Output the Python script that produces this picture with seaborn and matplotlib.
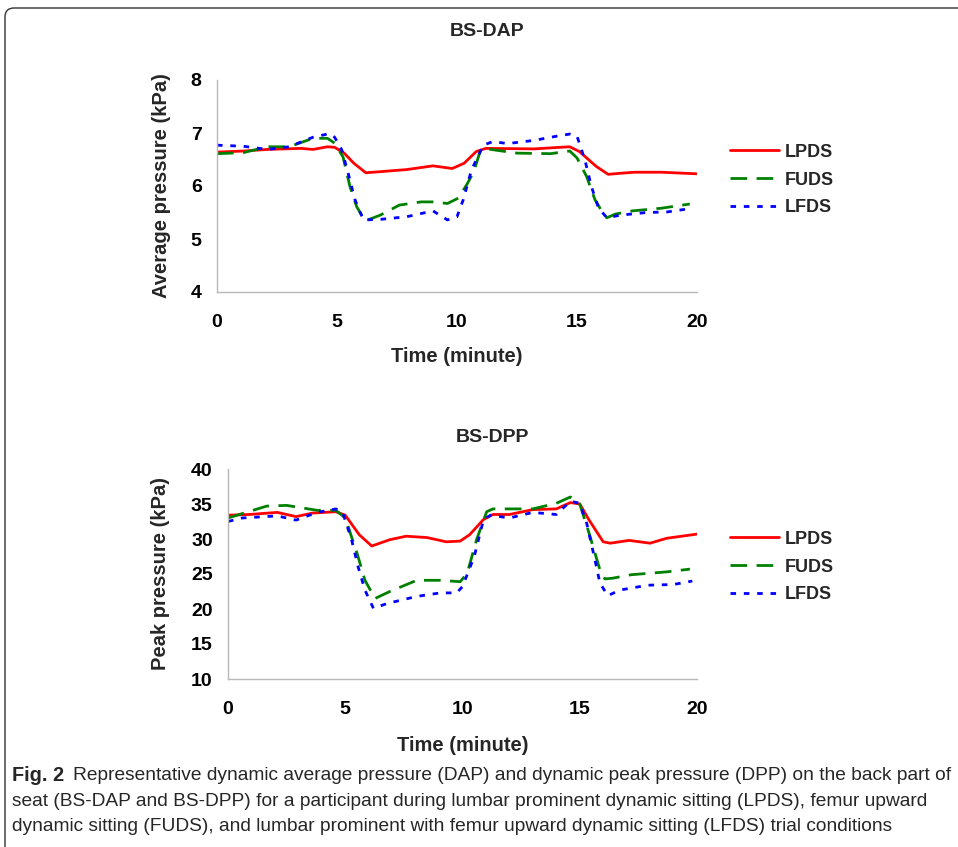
import matplotlib as mpl
mpl.use('Agg')
import matplotlib.pyplot as plt
from matplotlib.patches import FancyBboxPatch
from matplotlib.transforms import IdentityTransform
import seaborn as sns

# BS-DAP (average pressure, kPa)
top_lpds_t = [0, 1.1, 2.1, 3.5, 4.0, 4.6, 4.9, 5.3, 5.7, 6.2, 6.8, 7.9, 9.0, 9.8, 10.3, 10.8, 11.2, 13.2, 14.3, 14.7, 15.1, 15.8, 16.3, 16.8, 17.4, 18.5, 20]
top_lpds_v = [6.64, 6.66, 6.69, 6.71, 6.69, 6.74, 6.73, 6.62, 6.43, 6.25, 6.27, 6.31, 6.38, 6.33, 6.43, 6.65, 6.71, 6.70, 6.73, 6.74, 6.65, 6.37, 6.22, 6.24, 6.26, 6.26, 6.23]
top_fuds_t = [0, 1.1, 2.1, 3.0, 4.0, 4.6, 4.9, 5.25, 5.54, 5.82, 6.17, 6.8, 7.6, 8.5, 9.0, 9.6, 10.05, 10.4, 10.7, 10.96, 11.25, 12.5, 13.9, 14.7, 15.0, 15.4, 15.75, 16.0, 16.24, 16.6, 17.3, 18.5, 19.7]
top_fuds_v = [6.61, 6.63, 6.74, 6.74, 6.90, 6.90, 6.81, 6.55, 5.99, 5.61, 5.34, 5.45, 5.64, 5.70, 5.70, 5.67, 5.77, 6.02, 6.27, 6.65, 6.70, 6.62, 6.61, 6.66, 6.53, 6.18, 5.74, 5.55, 5.40, 5.47, 5.53, 5.58, 5.66]
top_lfds_t = [0, 1.1, 2.1, 3.0, 4.0, 4.7, 4.9, 5.2, 5.5, 5.75, 6.1, 6.8, 7.9, 9.0, 9.6, 10.0, 10.26, 10.6, 11.1, 11.5, 12.1, 13.2, 14.15, 14.7, 15.0, 15.33, 15.6, 15.9, 16.25, 16.8, 17.9, 18.75, 19.8]
top_lfds_v = [6.77, 6.75, 6.69, 6.74, 6.92, 6.99, 6.92, 6.68, 6.18, 5.74, 5.36, 5.37, 5.42, 5.53, 5.36, 5.42, 5.74, 6.30, 6.77, 6.84, 6.80, 6.86, 6.94, 6.98, 6.94, 6.49, 5.99, 5.58, 5.40, 5.45, 5.50, 5.51, 5.58]

# BS-DPP (peak pressure, kPa)
bot_lpds_t = [0, 0.9, 2.1, 2.9, 3.6, 4.6, 5.0, 5.6, 6.13, 6.9, 7.6, 8.5, 9.3, 9.9, 10.3, 10.9, 11.3, 12.0, 13.0, 14.0, 14.6, 15.0, 15.4, 16.0, 16.3, 17.1, 18.0, 18.7, 20]
bot_lpds_v = [33.4, 33.5, 33.8, 33.2, 33.7, 33.9, 33.4, 30.6, 29.0, 29.9, 30.4, 30.2, 29.6, 29.7, 30.6, 32.8, 33.5, 33.5, 34.2, 34.3, 35.2, 35.0, 32.7, 29.6, 29.4, 29.8, 29.4, 30.1, 30.7]
bot_fuds_t = [0, 1.65, 2.5, 3.8, 4.6, 5.0, 5.5, 5.84, 6.27, 6.9, 8.05, 9.05, 9.9, 10.2, 10.6, 11.03, 11.3, 13.0, 14.0, 14.6, 15.0, 15.4, 15.86, 16.07, 16.4, 17.2, 18.7, 19.7]
bot_fuds_v = [33.0, 34.7, 34.8, 34.1, 34.1, 33.0, 28.0, 24.1, 21.5, 22.5, 24.1, 24.1, 23.9, 25.1, 29.9, 33.9, 34.3, 34.3, 35.1, 36.0, 35.0, 30.8, 25.6, 24.3, 24.4, 24.9, 25.3, 25.7]
bot_lfds_t = [0, 0.6, 2.1, 2.9, 3.8, 4.6, 4.9, 5.27, 5.55, 5.84, 6.2, 6.8, 8.05, 9.05, 9.75, 10.0, 10.5, 10.9, 11.2, 12.0, 13.0, 14.0, 14.6, 15.0, 15.3, 15.65, 15.86, 16.2, 16.7, 17.9, 19.0, 19.8]
bot_lfds_v = [32.5, 33.0, 33.3, 32.7, 33.8, 34.3, 33.7, 29.9, 26.0, 22.7, 20.1, 20.8, 21.8, 22.3, 22.3, 23.2, 27.5, 32.8, 33.4, 33.0, 33.8, 33.5, 35.4, 35.1, 32.2, 27.0, 23.7, 21.9, 22.7, 23.4, 23.5, 24.0]

x_ticks = [0, 5, 10, 15, 20]
top_yticks = [4, 5, 6, 7, 8]
bot_yticks = [10, 15, 20, 25, 30, 35, 40]

caption_lines = [
    "Representative dynamic average pressure (DAP) and dynamic peak pressure (DPP) on the back part of",
    "seat (BS-DAP and BS-DPP) for a participant during lumbar prominent dynamic sitting (LPDS), femur upward",
    "dynamic sitting (FUDS), and lumbar prominent with femur upward dynamic sitting (LFDS) trial conditions",
]

sns.set_theme(style='white')
plt.rcParams['font.family'] = ['Liberation Sans', 'DejaVu Sans']

fig = plt.figure(figsize=(9.58, 8.47), dpi=100)
ax1 = fig.add_axes([217/958, 1-292/847, 480/958, 212/847])
ax2 = fig.add_axes([228/958, 1-679/847, 469/958, 210/847])

styles = {
    'LPDS': dict(color='#ff0000', linestyle='-'),
    'FUDS': dict(color='#008000', linestyle=(0, (6.0, 3.4))),
    'LFDS': dict(color='#0000ff', linestyle=(0, (2.0, 2.8))),
}

def draw(ax, series, yticks, ylabel, ylab_x, xlab_y, legend_y):
    for name, (t, v) in series.items():
        sns.lineplot(x=t, y=v, ax=ax, label=name, linewidth=2.0, **styles[name])
    ax.set_xlim(0, 20)
    ax.set_ylim(yticks[0], yticks[-1])
    ax.set_xticks(x_ticks)
    ax.set_yticks(yticks)
    for s in ['top', 'right']:
        ax.spines[s].set_visible(False)
    for s in ['left', 'bottom']:
        ax.spines[s].set_color('#b8b8b8')
        ax.spines[s].set_linewidth(1.0)
    ax.tick_params(axis='both', direction='in', length=5, width=1, color='#b8b8b8',
                   labelsize=14, labelcolor='black')
    ax.tick_params(axis='x', pad=16)
    ax.tick_params(axis='y', pad=11)
    for lab in ax.get_xticklabels() + ax.get_yticklabels():
        lab.set_fontweight('bold')
    ax.set_xlabel('Time (minute)', fontsize=14.5, fontweight='bold')
    ax.set_ylabel(ylabel, fontsize=14.5, fontweight='bold')
    ax.xaxis.set_label_coords(0.5, xlab_y)
    ax.yaxis.set_label_coords(ylab_x, 0.5)
    ax.legend(loc='center left', bbox_to_anchor=(730/958, legend_y),
              bbox_transform=fig.transFigure, frameon=False, borderpad=0,
              borderaxespad=0, handlelength=2.7, handletextpad=0.35,
              labelspacing=0.6, prop=dict(size=13, weight='bold'))

draw(ax1, {'LPDS': (top_lpds_t, top_lpds_v), 'FUDS': (top_fuds_t, top_fuds_v),
           'LFDS': (top_lfds_t, top_lfds_v)},
     top_yticks, 'Average pressure (kPa)', (171-217)/480, -0.258, 1-180/847)
draw(ax2, {'LPDS': (bot_lpds_t, bot_lpds_v), 'FUDS': (bot_fuds_t, bot_fuds_v),
           'LFDS': (bot_lfds_t, bot_lfds_v)},
     bot_yticks, 'Peak pressure (kPa)', (170-228)/469, -0.27, 1-567/847)

fig.text(487/958, 1-32/847, 'BS-DAP', ha='center', va='center', fontsize=14, fontweight='bold')
fig.text(492/958, 1-437/847, 'BS-DPP', ha='center', va='center', fontsize=14, fontweight='bold')

cap_font = ['Liberation Sans', 'DejaVu Sans']
cap_size = 13.8
ys = [775, 801, 826]
t0 = fig.text(12/958, 1-ys[0]/847, 'Fig. 2', ha='left', va='center', fontsize=cap_size + 0.5,
              fontweight='bold', family=cap_font)
fig.canvas.draw()
bb = t0.get_window_extent()
fig.text((bb.x1 + 9)/958, 1-ys[0]/847, caption_lines[0], ha='left', va='center',
         fontsize=cap_size, family=cap_font)
for line, y in zip(caption_lines[1:], ys[1:]):
    fig.text(12/958, 1-y/847, line, ha='left', va='center', fontsize=cap_size, family=cap_font)

border = FancyBboxPatch((5, -60), 1100, 847-8+60, boxstyle='round,pad=0,rounding_size=9',
                        transform=IdentityTransform(), fill=False, edgecolor='#333333',
                        linewidth=1.0)
fig.patches.append(border)

fig.savefig('out.png', dpi=100)
